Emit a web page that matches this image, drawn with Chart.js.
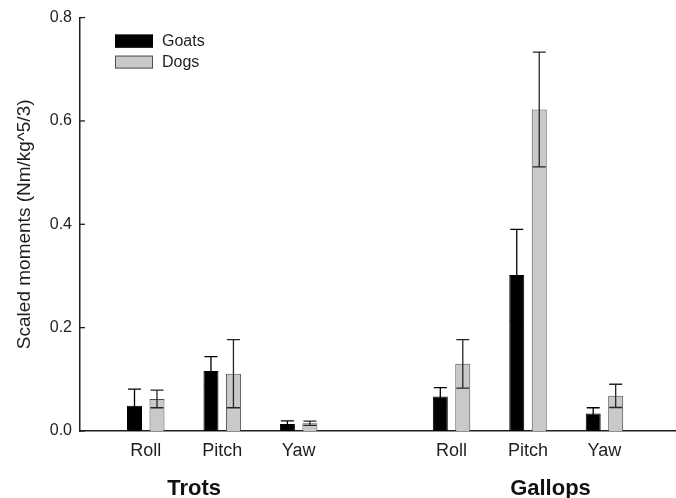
<!DOCTYPE html>
<html>
<head>
<meta charset="utf-8">
<script src="https://cdn.jsdelivr.net/npm/chart.js@4.4.1/dist/chart.umd.min.js"></script>
<style>
  html, body { margin: 0; padding: 0; background: #fff; }
  #wrap { width: 676px; height: 498px; }
</style>
</head>
<body>
<div id="wrap"><canvas id="c" width="676" height="498"></canvas></div>
<script>
// Moment components and gait groups
const components = ['Roll', 'Pitch', 'Yaw'];
const gaits = ['Trots', 'Gallops'];

// Mean scaled moments (Nm/kg^5/3)
const goatTrot   = [0.049, 0.116, 0.0135];
const goatGallop = [0.067, 0.302, 0.034];
const dogTrot    = [0.062, 0.111, 0.015];
const dogGallop  = [0.130, 0.622, 0.068];

// Error-bar half-widths
const goatTrotErr   = [0.032, 0.028, 0.006];
const goatGallopErr = [0.017, 0.088, 0.011];
const dogTrotErr    = [0.017, 0.066, 0.004];
const dogGallopErr  = [0.047, 0.111, 0.0225];

// Y-axis ticks
const yTicks = [0.0, 0.2, 0.4, 0.6, 0.8];

const FONT = "'Liberation Sans', Arial, Helvetica, sans-serif";
const INK = '#1e1e1e';

// Each gait takes one slot per component, with an empty slot between gaits
const slot = (g, i) => g * (components.length + 1) + i + 1;
const slotPositions = [];
const slotLabels = [];
gaits.forEach((g, gi) => components.forEach((c, ci) => {
  slotPositions.push(slot(gi, ci));
  slotLabels.push(c);
}));

function series(trot, gallop) {
  return [
    ...trot.map((v, i) => ({ x: slot(0, i), y: v })),
    ...gallop.map((v, i) => ({ x: slot(1, i), y: v }))
  ];
}

// Error bars drawn over the bars
const errorBars = {
  id: 'errorBars',
  afterDatasetsDraw(chart) {
    const { ctx } = chart;
    const yScale = chart.scales.y;
    chart.data.datasets.forEach((ds, di) => {
      const meta = chart.getDatasetMeta(di);
      ctx.save();
      ctx.strokeStyle = ds.errorColor;
      ctx.lineWidth = 1.3;
      meta.data.forEach((bar, i) => {
        const v = ds.data[i].y;
        const e = ds.errors[i];
        const yTop = yScale.getPixelForValue(v + e);
        const yBot = yScale.getPixelForValue(v - e);
        const cap = 6.5;
        ctx.beginPath();
        ctx.moveTo(bar.x, yBot);
        ctx.lineTo(bar.x, yTop);
        ctx.moveTo(bar.x - cap, yTop);
        ctx.lineTo(bar.x + cap, yTop);
        ctx.moveTo(bar.x - cap, yBot);
        ctx.lineTo(bar.x + cap, yBot);
        ctx.stroke();
      });
      ctx.restore();
    });
  }
};

// Inward-pointing y ticks, legend and gait group captions
const decorations = {
  id: 'decorations',
  afterDraw(chart) {
    const { ctx, chartArea } = chart;
    const yScale = chart.scales.y;
    const xScale = chart.scales.x;
    ctx.save();
    ctx.strokeStyle = INK;
    ctx.lineWidth = 1.3;
    yScale.ticks.forEach((t, i) => {
      const py = yScale.getPixelForTick(i);
      ctx.beginPath();
      ctx.moveTo(chartArea.left, py);
      ctx.lineTo(chartArea.left + 5, py);
      ctx.stroke();
    });

    // legend
    const lx = chartArea.left + 35;
    let ly = chartArea.top + 17;
    ctx.font = `16px ${FONT}`;
    ctx.textBaseline = 'middle';
    ctx.textAlign = 'left';
    chart.data.datasets.forEach(ds => {
      ctx.fillStyle = ds.backgroundColor;
      ctx.fillRect(lx, ly, 38, 13);
      ctx.strokeStyle = ds.borderColor;
      ctx.lineWidth = 1;
      ctx.strokeRect(lx + 0.5, ly + 0.5, 37, 12);
      ctx.fillStyle = INK;
      ctx.fillText(ds.label, lx + 47, ly + 7);
      ly += 21;
    });

    // gait captions under the component labels
    const captionAt = [1.634, 6.294];
    ctx.font = `bold 22px ${FONT}`;
    ctx.textAlign = 'center';
    ctx.textBaseline = 'alphabetic';
    ctx.fillStyle = '#111';
    gaits.forEach((g, i) => {
      ctx.fillText(g, xScale.getPixelForValue(captionAt[i]), 495);
    });
    ctx.restore();
  }
};

new Chart(document.getElementById('c'), {
  type: 'bar',
  data: {
    datasets: [
      {
        label: 'Goats',
        data: series(goatTrot, goatGallop),
        errors: [...goatTrotErr, ...goatGallopErr],
        errorColor: '#000000',
        backgroundColor: '#000000',
        borderColor: '#000000',
        borderWidth: 1
      },
      {
        label: 'Dogs',
        data: series(dogTrot, dogGallop),
        errors: [...dogTrotErr, ...dogGallopErr],
        errorColor: '#262626',
        backgroundColor: '#c9c9c9',
        borderColor: '#505050',
        borderWidth: 1
      }
    ]
  },
  options: {
    responsive: false,
    devicePixelRatio: 1,
    animation: false,
    categoryPercentage: 0.588,
    barPercentage: 0.667,
    layout: { padding: { top: 16, right: 0, bottom: 0, left: 0 } },
    plugins: {
      legend: { display: false },
      tooltip: { enabled: false }
    },
    scales: {
      x: {
        type: 'linear',
        min: 0.14,
        max: 7.936,
        offset: false,
        grid: { display: false, drawTicks: false, offset: false },
        border: { display: true, color: INK, width: 1.5 },
        afterBuildTicks(scale) {
          scale.ticks = slotPositions.map(v => ({ value: v }));
        },
        afterFit(scale) { scale.height = 67; },
        ticks: {
          autoSkip: false,
          maxRotation: 0,
          padding: 9,
          color: INK,
          font: { family: FONT, size: 18 },
          callback: (value, index) => slotLabels[index]
        }
      },
      y: {
        min: 0,
        max: 0.8,
        grid: { display: false, drawTicks: false },
        border: { display: true, color: INK, width: 1.5 },
        afterBuildTicks(scale) {
          scale.ticks = yTicks.map(v => ({ value: v }));
        },
        afterFit(scale) { scale.width = 80; },
        ticks: {
          padding: 8,
          color: INK,
          font: { family: FONT, size: 16 },
          callback: v => v.toFixed(1)
        },
        title: {
          display: true,
          text: 'Scaled moments (Nm/kg^5/3)',
          color: INK,
          padding: { top: 13.5, bottom: 0 },
          font: { family: FONT, size: 19 }
        }
      }
    }
  },
  plugins: [errorBars, decorations]
});
</script>
</body>
</html>
